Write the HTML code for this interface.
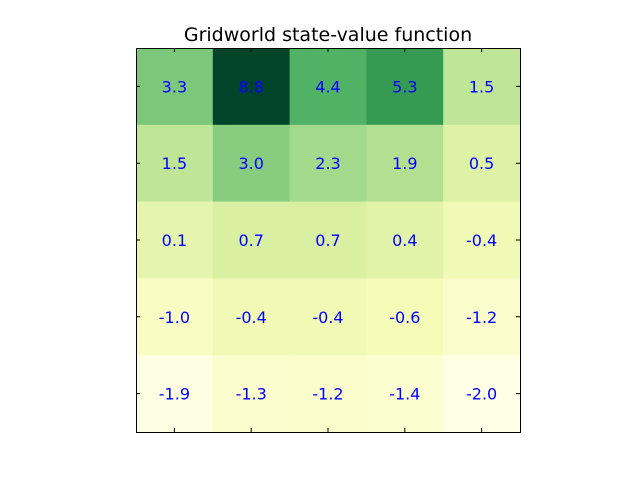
<!DOCTYPE html>
<html><head><meta charset="utf-8"><style>
body{margin:0;background:#fff;width:640px;height:480px;overflow:hidden;font-family:"Liberation Sans","DejaVu Sans",sans-serif}
</style></head><body>
<svg id="chart" width="640" height="480">
<text x="328" y="41" text-anchor="middle" font-size="19" font-family="DejaVu Sans, Liberation Sans, sans-serif" fill="#000">Gridworld state-value function</text>
<g id="cells"></g>
</svg>
<script>
const values = [
 [3.3, 8.8, 4.4, 5.3, 1.5],
 [1.5, 3.0, 2.3, 1.9, 0.5],
 [0.1, 0.7, 0.7, 0.4, -0.4],
 [-1.0, -0.4, -0.4, -0.6, -1.2],
 [-1.9, -1.3, -1.2, -1.4, -2.0]
];
const labels = [
 ["3.3","8.8","4.4","5.3","1.5"],
 ["1.5","3.0","2.3","1.9","0.5"],
 ["0.1","0.7","0.7","0.4","-0.4"],
 ["-1.0","-0.4","-0.4","-0.6","-1.2"],
 ["-1.9","-1.3","-1.2","-1.4","-2.0"]
];
const cmap = ["#ffffe5","#f7fcb9","#d9f0a3","#addd8e","#78c679","#41ab5d","#238443","#006837","#004529"];
const X0=136,Y0=48,W=384,H=384;
const svg=document.getElementById('chart'), g=document.getElementById('cells');
const NS="http://www.w3.org/2000/svg";
const flat=values.flat(), vmin=Math.min(...flat), vmax=Math.max(...flat);
function hex(h){return [1,3,5].map(i=>parseInt(h.substr(i,2),16));}
function color(v){
  let t=(v-vmin)/(vmax-vmin)*(cmap.length-1);
  let i=Math.min(Math.floor(t),cmap.length-2), f=t-i;
  let a=hex(cmap[i]), b=hex(cmap[i+1]);
  return 'rgb('+a.map((c,k)=>Math.round(c+(b[k]-c)*f)).join(',')+')';
}
const nr=values.length, nc=values[0].length, cw=W/nc, ch=H/nr;
const xs=c=>X0+c*cw, ys=r=>Y0+r*ch;
for(let r=0;r<nr;r++)for(let c=0;c<nc;c++){
  const rect=document.createElementNS(NS,'rect');
  rect.setAttribute('x',xs(c));rect.setAttribute('y',ys(r));
  rect.setAttribute('width',cw+0.5);rect.setAttribute('height',ch+0.5);
  rect.setAttribute('fill',color(values[r][c]));
  
  
  g.appendChild(rect);
  const t=document.createElementNS(NS,'text');
  t.setAttribute('x',xs(c)+cw/2);t.setAttribute('y',ys(r)+ch/2+6);
  t.setAttribute('text-anchor','middle');t.setAttribute('font-size','16');
  t.setAttribute('font-family','DejaVu Sans, Liberation Sans, sans-serif');
  t.setAttribute('fill','#0000ff');t.textContent=labels[r][c];
  
  
  svg.appendChild(t);
}
let d='';
for(let c=0;c<nc;c++){const x=xs(c)+cw/2;d+=`M${x},${Y0+H}v-4M${x},${Y0}v4`;}
for(let r=0;r<nr;r++){const y=ys(r)+ch/2;d+=`M${X0},${y}h4M${X0+W},${y}h-4`;}
const ticks=document.createElementNS(NS,'path');
ticks.setAttribute('d',d);ticks.setAttribute('stroke','#000');ticks.setAttribute('fill','none');


svg.appendChild(ticks);
const frame=document.createElementNS(NS,'rect');
frame.setAttribute('x',X0+0.5);frame.setAttribute('y',Y0+0.5);frame.setAttribute('width',W);frame.setAttribute('height',H);
frame.setAttribute('fill','none');frame.setAttribute('stroke','#000');


svg.appendChild(frame);
</script>
</body></html>
